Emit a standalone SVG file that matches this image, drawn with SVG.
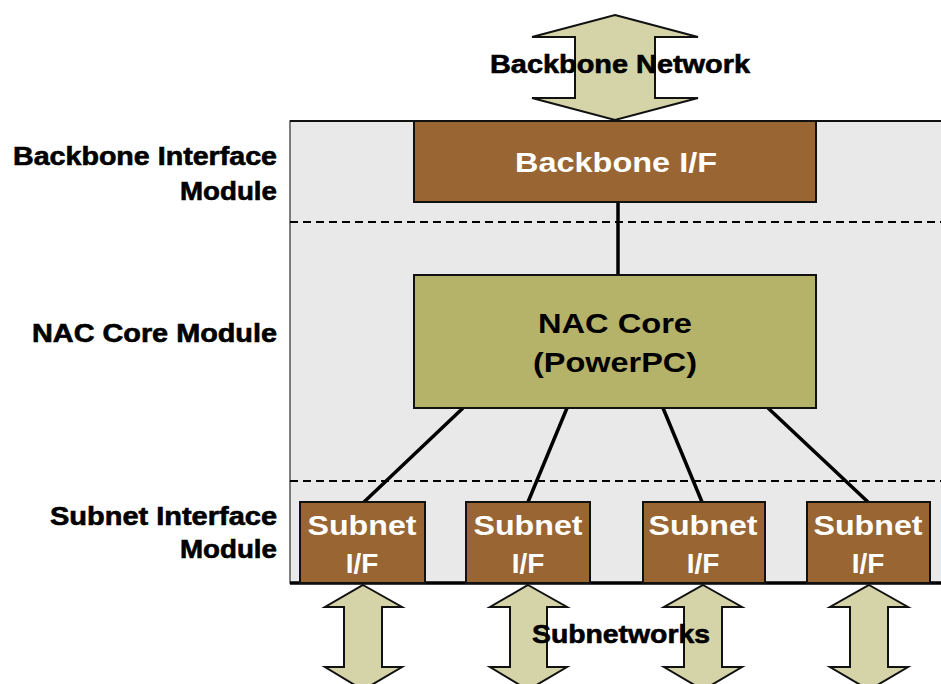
<svg xmlns="http://www.w3.org/2000/svg" width="941" height="684" viewBox="0 0 941 684">
<defs>
<style>
.lbl{font-family:"Liberation Sans",Arial,sans-serif;font-weight:bold;font-size:25px;fill:#000;stroke:#000;stroke-width:0.6}
.wt{font-family:"Liberation Sans",Arial,sans-serif;font-weight:bold;font-size:28px;fill:#fff;text-anchor:middle}
.bt{font-family:"Liberation Sans",Arial,sans-serif;font-weight:bold;font-size:28px;fill:#000;text-anchor:middle}
.brown{fill:#996633;stroke:#111;stroke-width:2}
.olive{fill:#b5b269;stroke:#111;stroke-width:2}
.arr{fill:#d5d4a9;stroke:#111;stroke-width:2}
.dash{stroke:#000;stroke-width:2;stroke-dasharray:8 5;fill:none}
.conn{stroke:#000;stroke-width:3.5;fill:none}
</style>
</defs>
<rect width="941" height="684" fill="#fff"/>
<g id="panel">
<rect x="290" y="121" width="660" height="462" fill="#e9e9e9" stroke="#555" stroke-width="1.5"/>
<line x1="290" y1="121" x2="941" y2="121" stroke="#111" stroke-width="2"/>
<line x1="290" y1="583" x2="941" y2="583" stroke="#000" stroke-width="3.5"/>
<line class="dash" x1="290" y1="222" x2="941" y2="222"/>
<line class="dash" x1="290" y1="481" x2="941" y2="481"/>
</g>
<g id="backbone-arrow">
<path class="arr" d="M615,15 L698,37 L655,37 L655,98 L698,98 L615,120 L532,98 L575,98 L575,37 L532,37 Z"/>
<text class="lbl" x="490" y="73" textLength="260" lengthAdjust="spacingAndGlyphs">Backbone Network</text>
</g>
<g id="connectors">
<line class="conn" x1="618" y1="202" x2="618" y2="275"/>
<line class="conn" x1="463" y1="408" x2="364" y2="502"/>
<line class="conn" x1="567" y1="408" x2="528" y2="502"/>
<line class="conn" x1="663" y1="408" x2="702" y2="502"/>
<line class="conn" x1="768" y1="408" x2="868" y2="502"/>
</g>
<g id="backbone-if">
<rect class="brown" x="414" y="121" width="402" height="81"/>
<text class="wt" x="616" y="172" textLength="202" lengthAdjust="spacingAndGlyphs">Backbone I/F</text>
</g>
<g id="nac-core">
<rect class="olive" x="414" y="275" width="402" height="133"/>
<text class="bt" x="615" y="333" textLength="154" lengthAdjust="spacingAndGlyphs">NAC Core</text>
<text class="bt" x="615" y="372" textLength="164" lengthAdjust="spacingAndGlyphs">(PowerPC)</text>
</g>
<g id="subnet1">
<rect class="brown" x="300" y="502" width="125" height="81"/>
<text class="wt" x="362" y="535" textLength="109" lengthAdjust="spacingAndGlyphs">Subnet</text>
<text class="wt" x="362" y="573">I/F</text>
</g>
<g id="subnet2">
<rect class="brown" x="466" y="502" width="124" height="81"/>
<text class="wt" x="528" y="535" textLength="109" lengthAdjust="spacingAndGlyphs">Subnet</text>
<text class="wt" x="528" y="573">I/F</text>
</g>
<g id="subnet3">
<rect class="brown" x="643" y="502" width="122" height="81"/>
<text class="wt" x="703" y="535" textLength="109" lengthAdjust="spacingAndGlyphs">Subnet</text>
<text class="wt" x="703" y="573">I/F</text>
</g>
<g id="subnet4">
<rect class="brown" x="807" y="502" width="123" height="81"/>
<text class="wt" x="868" y="535" textLength="109" lengthAdjust="spacingAndGlyphs">Subnet</text>
<text class="wt" x="868" y="573">I/F</text>
</g>
<g id="subnet-arrows">
<path class="arr" d="M363,585 L402,607 L382,607 L382,667 L402,667 L363,690 L325,667 L344,667 L344,607 L325,607 Z"/>
<path class="arr" d="M528,585 L567,607 L547,607 L547,667 L567,667 L528,690 L490,667 L510,667 L510,607 L490,607 Z"/>
<path class="arr" d="M703,585 L742,607 L722,607 L722,667 L742,667 L703,690 L664,667 L684,667 L684,607 L664,607 Z"/>
<path class="arr" d="M869,585 L908,607 L888,607 L888,667 L908,667 L869,690 L830,667 L850,667 L850,607 L830,607 Z"/>
<text class="lbl" x="532" y="643" textLength="178" lengthAdjust="spacingAndGlyphs">Subnetworks</text>
</g>
<g id="labels">
<text class="lbl" x="277" y="165" text-anchor="end" textLength="264" lengthAdjust="spacingAndGlyphs">Backbone Interface</text>
<text class="lbl" x="277" y="200" text-anchor="end" textLength="97" lengthAdjust="spacingAndGlyphs">Module</text>
<text class="lbl" x="277" y="342" text-anchor="end" textLength="245" lengthAdjust="spacingAndGlyphs">NAC Core Module</text>
<text class="lbl" x="277" y="525" text-anchor="end" textLength="227" lengthAdjust="spacingAndGlyphs">Subnet Interface</text>
<text class="lbl" x="277" y="558" text-anchor="end" textLength="97" lengthAdjust="spacingAndGlyphs">Module</text>
</g>
</svg>
